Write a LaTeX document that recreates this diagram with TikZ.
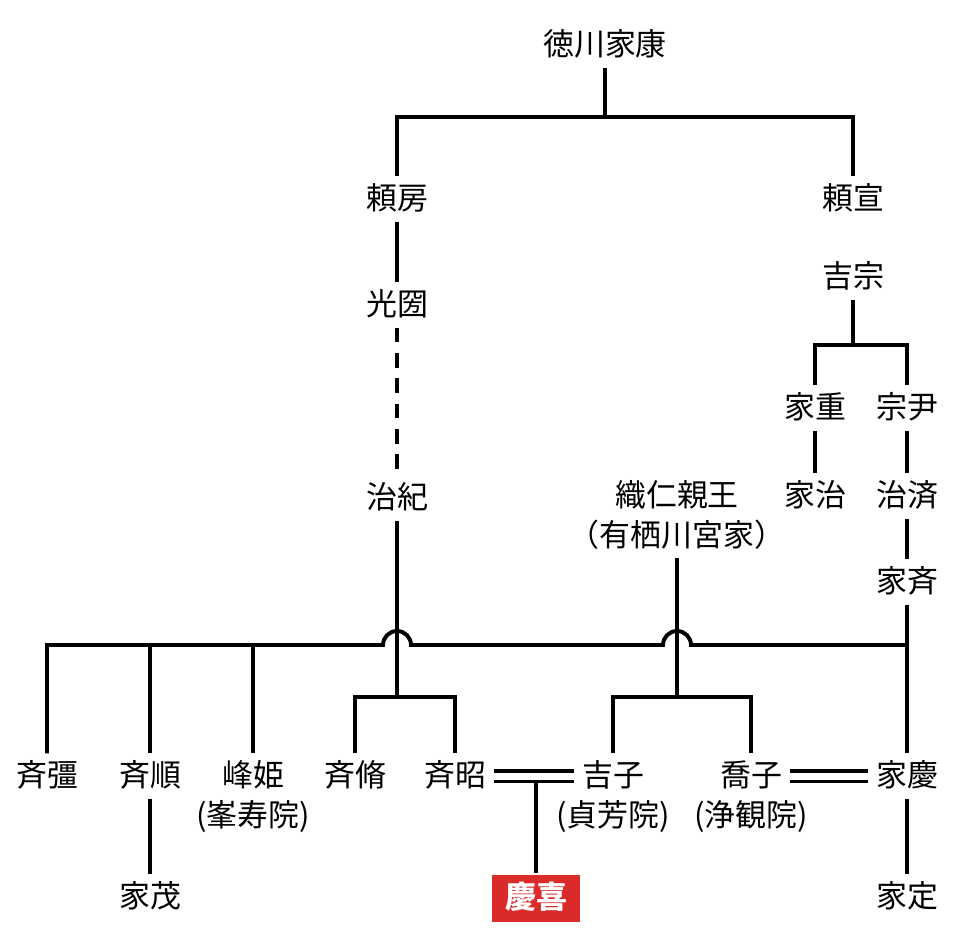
\documentclass[tikz,border=0pt]{standalone}
\usepackage{fontspec}
\setmainfont{Noto Sans CJK JP}
\usetikzlibrary{positioning,calc}
\definecolor{keikired}{HTML}{DB2A2A}

\begin{document}
\begin{tikzpicture}[x=0.025cm,y=-0.025cm,line width=2.8pt,
  person/.style={font=\fontsize{22}{25}\selectfont,inner sep=4pt,text height=18.5pt,text depth=3pt},
  marriage/.style={double,double distance=5pt,line width=2.6pt},
  lineage/.style={dash pattern=on 10.5pt off 7.5pt},
  shogun/.style={person,fill=keikired,text=white,font=\fontsize{22}{25}\selectfont\bfseries,minimum width=2.175cm,minimum height=1.175cm}]
  \useasboundingbox (0,0) rectangle (960,950);
  \node[person](ieyasu) at (605,45) {徳川家康};
  \node[person](yorifusa) at (397,199) {頼房};
  \node[person](yorinobu) at (853,199) {頼宣};
  \node[person](mitsukuni) at (397,305) {光圀};
  \node[person](haruki) at (397,498) {治紀};
  \node[person](yoshimune) at (853,277) {吉宗};
  \node[person](ieshige) at (815,408) {家重};
  \node[person](munetada) at (907,408) {宗尹};
  \node[person](ieharu) at (815,496) {家治};
  \node[person](harusada) at (907,496) {治済};
  \node[person](ienari) at (907,582) {家斉};
  \node[person](orihito) at (677,496) {織仁親王};
  \node[person,below=-4.5pt of orihito](arisugawa) {（有栖川宮家）};
  \node[person](narikatsu) at (47,776) {斉彊};
  \node[person](nariyuki) at (150,776) {斉順};
  \node[person](minehime) at (253,776) {峰姫};
  \node[person,below=-4.5pt of minehime](minehimeB) {(峯寿院)};
  \node[person](naritaka) at (355,776) {斉脩};
  \node[person](nariaki) at (455,776) {斉昭};
  \node[person](yoshiko) at (613,776) {吉子};
  \node[person,below=-4.5pt of yoshiko](yoshikoB) {(貞芳院)};
  \node[person](takako) at (751,776) {喬子};
  \node[person,below=-4.5pt of takako](takakoB) {(浄観院)};
  \node[person](ieyoshi) at (907,776) {家慶};
  \node[person](iemochi) at (150,897) {家茂};
  \node[shogun](keiki) at (536,898) {慶喜};
  \node[person](iesada) at (907,897) {家定};
  \coordinate (ij) at (605,117);
  \coordinate (yj) at (853,345);
  \coordinate (busR) at (907,645);
  \coordinate (hj) at (397,697);
  \coordinate (aj) at (677,697);
  \coordinate (wed) at (536,782);
  \draw (ieyasu) -- (ij);
  \draw (yorifusa) |- (ij) -| (yorinobu);
  \draw (yorifusa) -- (mitsukuni);
  \draw[lineage] (mitsukuni) -- (haruki);
  \draw (yoshimune) -- (yj);
  \draw (ieshige) |- (yj) -| (munetada);
  \draw (ieshige) -- (ieharu);
  \draw (munetada) -- (harusada);
  \draw (harusada) -- (ienari);
  \draw (ienari) -- (ieyoshi);
  \draw (ieyoshi) -- (iesada);
  \draw (narikatsu) |- ($(haruki |- busR)+(-14,0)$) arc[start angle=180,end angle=0,radius=0.35cm]
        -- ($(orihito |- busR)+(-14,0)$) arc[start angle=180,end angle=0,radius=0.35cm] -- (busR);
  \draw (nariyuki |- busR) -- (nariyuki);
  \draw (minehime |- busR) -- (minehime);
  \draw (nariyuki) -- (iemochi);
  \draw (haruki) -- (hj);
  \draw (naritaka) |- (hj) -| (nariaki);
  \draw (arisugawa) -- (aj);
  \draw (yoshiko) |- (aj) -| (takako);
  \draw[marriage] (nariaki) -- (yoshiko);
  \draw[marriage] (takako) -- (ieyoshi);
  \draw (wed) -- (keiki);
\end{tikzpicture}
\end{document}
